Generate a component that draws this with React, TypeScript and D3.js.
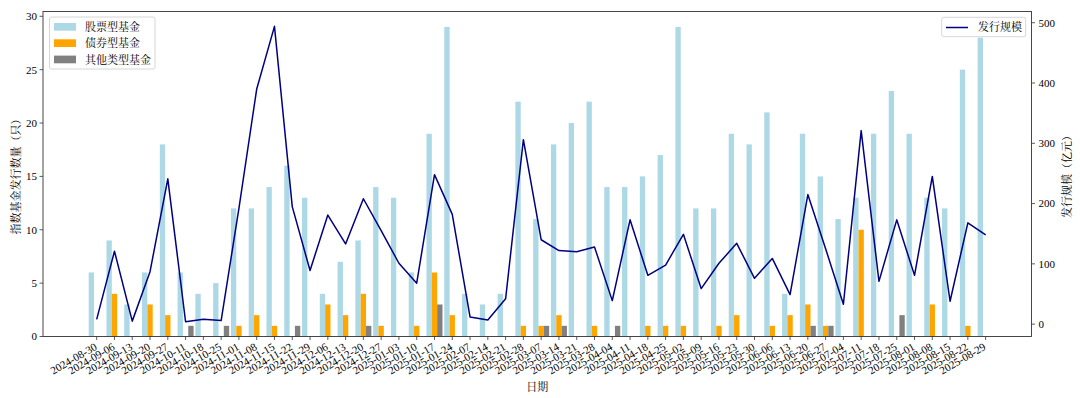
import React from 'react';
import * as d3 from 'd3';

const dates = [
  '2024-08-30','2024-09-06','2024-09-13','2024-09-20','2024-09-27','2024-10-11','2024-10-18','2024-10-25',
  '2024-11-01','2024-11-08','2024-11-15','2024-11-22','2024-11-29','2024-12-06','2024-12-13','2024-12-20',
  '2024-12-27','2025-01-03','2025-01-10','2025-01-17','2025-01-24','2025-02-07','2025-02-14','2025-02-21',
  '2025-02-28','2025-03-07','2025-03-14','2025-03-21','2025-03-28','2025-04-04','2025-04-11','2025-04-18',
  '2025-04-25','2025-05-02','2025-05-09','2025-05-16','2025-05-23','2025-05-30','2025-06-06','2025-06-13',
  '2025-06-20','2025-06-27','2025-07-04','2025-07-11','2025-07-18','2025-07-25','2025-08-01','2025-08-08',
  '2025-08-15','2025-08-22','2025-08-29'
];

const stockCounts = [6,9,3,6,18,6,4,5,12,12,14,16,13,4,7,9,14,13,6,19,29,4,3,4,22,11,18,20,22,14,14,15,17,29,12,12,19,18,21,4,19,15,11,13,19,23,19,13,12,25,28];
const bondCounts  = [0,4,0,3,2,0,0,0,1,2,1,0,0,3,2,4,1,0,1,6,2,0,0,0,1,1,2,0,1,0,0,1,1,1,0,1,2,0,1,2,3,1,0,10,0,0,0,3,0,1,0];
const otherCounts = [0,0,0,0,0,1,0,1,0,0,0,1,0,0,0,1,0,0,0,3,0,0,0,0,0,1,1,0,0,1,0,0,0,0,0,0,0,0,0,0,1,1,0,0,0,2,0,0,0,0,0];
const issueScale  = [8,121,5,87,241,4,8,6,192,390,494,195,89,181,133,208,155,101,68,248,182,12,7,42,306,140,122,120,128,39,173,81,98,149,59,101,134,76,109,49,215,125,33,321,71,173,81,245,38,168,148];

const leftTicks = [0,5,10,15,20,25,30];
const rightTicks = [0,100,200,300,400,500];

const seriesNames = ['股票型基金','债券型基金','其他类型基金'];
const seriesColors = ['#add8e6','#ffa500','#808080'];
const lineName = '发行规模';
const lineColor = '#000080';

const W = 1080, H = 398;
const PL = 43, PR = 1031.5, PT = 11.5, PB = 336.5;
const FONT = "'Liberation Serif','Times New Roman','Noto Serif CJK SC','Noto Sans CJK SC',serif";

export default function App() {
  const x = d3.scaleLinear().domain([-3.02, 52.58]).range([PL, PR]);
  const yL = d3.scaleLinear().domain([0, 30.45]).range([PB, PT]);
  const yR = d3.scaleLinear().domain([-20.5, 518.6]).range([PB, PT]);
  const bw = 0.3;
  const bwPx = x(bw) - x(0);
  const series = [stockCounts, bondCounts, otherCounts];
  const offsets = [-bw, 0, bw];
  const line = d3.line<number>().x((_, i) => x(i)).y(d => yR(d));

  return (
    <svg width={W} height={H} style={{ position: 'absolute', left: 0, top: 0, background: '#fff' }} fontFamily={FONT}>
      <rect x={0} y={0} width={W} height={H} fill="#fff" />
      {series.map((vals, s) => (
        <g key={s}>
          {vals.map((v, i) => v > 0 ? (
            <rect key={i} x={x(i + offsets[s]) - bwPx / 2} y={yL(v)} width={bwPx} height={yL(0) - yL(v)} fill={seriesColors[s]} />
          ) : null)}
        </g>
      ))}
      <path d={line(issueScale) || ''} fill="none" stroke={lineColor} strokeWidth={1.5} strokeLinejoin="round" />
      {/* spines */}
      <rect x={PL} y={PT} width={PR - PL} height={PB - PT} fill="none" stroke="#333" strokeWidth={0.9} />
      {/* x ticks */}
      {dates.map((d, i) => (
        <g key={d}>
          <line x1={x(i)} x2={x(i)} y1={PB} y2={PB + 3.5} stroke="#333" strokeWidth={0.8} />
          <text transform={`translate(${x(i) + 1},${PB + 12.5}) rotate(-30)`} textAnchor="end" fontSize={11} fill="#000">{d}</text>
        </g>
      ))}
      {/* left ticks */}
      {leftTicks.map(t => (
        <g key={t}>
          <line x1={PL - 3.5} x2={PL} y1={yL(t)} y2={yL(t)} stroke="#333" strokeWidth={0.8} />
          <text x={PL - 6} y={yL(t)} dy="0.35em" textAnchor="end" fontSize={11}>{t}</text>
        </g>
      ))}
      {/* right ticks */}
      {rightTicks.map(t => (
        <g key={t}>
          <line x1={PR} x2={PR + 3.5} y1={yR(t)} y2={yR(t)} stroke="#333" strokeWidth={0.8} />
          <text x={PR + 7} y={yR(t)} dy="0.35em" textAnchor="start" fontSize={11}>{t}</text>
        </g>
      ))}
      {/* axis labels */}
      <text transform={`translate(20,${(PT + PB) / 2}) rotate(-90)`} textAnchor="middle" fontSize={11}>指数基金发行数量（只）</text>
      <text transform={`translate(1071,${(PT + PB) / 2}) rotate(-90)`} textAnchor="middle" fontSize={11}>发行规模（亿元）</text>
      <text x={(PL + PR) / 2} y={391} textAnchor="middle" fontSize={11}>日期</text>
      {/* left legend */}
      <rect x={49.5} y={17} width={105.5} height={52} fill="#fff" fillOpacity={0.8} stroke="#ccc" strokeWidth={0.8} rx={2} />
      {seriesNames.map((n, k) => (
        <g key={n}>
          <rect x={54} y={23 + k * 16.3} width={22} height={7.7} fill={seriesColors[k]} />
          <text x={85} y={27 + k * 16.3} dy="0.36em" fontSize={11}>{n}</text>
        </g>
      ))}
      {/* right legend */}
      <rect x={941.7} y={17.3} width={84} height={19.4} fill="#fff" fillOpacity={0.8} stroke="#ccc" strokeWidth={0.8} rx={2} />
      <line x1={946} x2={968} y1={27.5} y2={27.5} stroke={lineColor} strokeWidth={1.5} />
      <text x={978} y={27.5} dy="0.36em" fontSize={11}>{lineName}</text>
    </svg>
  );
}
